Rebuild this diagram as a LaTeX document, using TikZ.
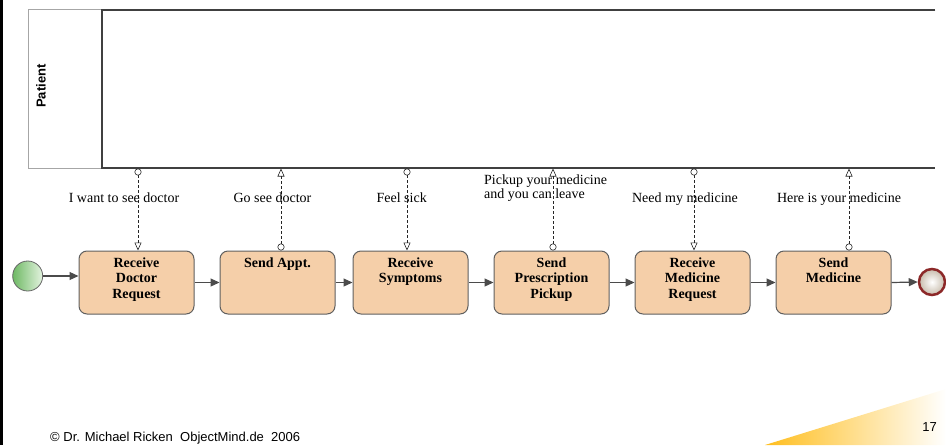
\documentclass[tikz,border=0pt]{standalone}
\usepackage{fontspec}
\setmainfont{Liberation Serif}
\setsansfont{Liberation Sans}
\usetikzlibrary{arrows.meta,shapes.geometric}
\definecolor{taskfill}{RGB}{245,207,169}
\definecolor{taskborder}{RGB}{95,95,95}
\definecolor{seqcol}{RGB}{75,75,75}
\definecolor{poolline}{RGB}{64,64,64}
\definecolor{endred}{RGB}{140,40,40}
\definecolor{startdark}{RGB}{110,185,100}
\definecolor{startlight}{RGB}{228,243,224}
\definecolor{endfillout}{RGB}{200,188,172}
\definecolor{footorange}{RGB}{255,190,30}
\newcommand\tasklbl[1]{\parbox[c][63pt][t]{115pt}{\centering\fontsize{14}{15.5}\selectfont\bfseries\vspace*{6.5pt}#1\par}}
\begin{document}
\begin{tikzpicture}[x=1pt,y=-1pt,
  task/.style={draw=taskborder, line width=1pt, rounded corners=8pt, fill=taskfill,
    inner sep=0pt, minimum width=115pt, minimum height=63pt},
  seq/.style={draw=seqcol, line width=1.2pt, -{Triangle[length=9pt,width=8pt]}},
  msg/.style={draw=black!85, line width=0.6pt, dash pattern=on 3pt off 2pt,
    {Circle[open,length=7pt,width=7pt]}-{Triangle[open,length=8pt,width=7pt]}},
  msglbl/.style={font=\fontsize{14}{14}\selectfont, inner sep=0pt, anchor=base},
  foot/.style={font=\sffamily\fontsize{13}{13}\selectfont, inner sep=0pt}]
\useasboundingbox (0,0) rectangle (946,445);
% left black bar
\draw[line width=3pt] (1.5,0) -- (1.5,445);
% footer triangle
\shade[left color=footorange, right color=white] (765,445) -- (946,389) -- (946,445) -- cycle;
% pool
\draw[gray!70, line width=0.8pt] (28,9.5) rectangle (102,168.5);
\node[anchor=north west, inner sep=0pt, minimum width=833pt, minimum height=158pt] (pool) at (102,10) {};
\draw[poolline, line width=2pt] (pool.north east) -- (pool.north west) -- (pool.south west) -- (pool.south east);
\node[rotate=90, font=\sffamily\bfseries\fontsize{13}{13}\selectfont, inner sep=0pt] (plabel) at (41,86) {Patient};
% tasks
\node[task] (t1) at (136.5,282.5) {\tasklbl{Receive\\Doctor\\Request}};
\node[task] (t2) at (277.5,282.5) {\tasklbl{Send Appt.}};
\node[task] (t3) at (410.5,282.5) {\tasklbl{Receive\\Symptoms}};
\node[task] (t4) at (551.5,282.5) {\tasklbl{Send\\Prescription\\Pickup}};
\node[task] (t5) at (692.5,282.5) {\tasklbl{Receive\\Medicine\\Request}};
\node[task] (t6) at (833.5,282.5) {\tasklbl{Send\\Medicine}};
% events
\node[circle, draw=gray!80!black, line width=0.8pt, minimum size=30pt, inner sep=0pt,
  left color=startdark, right color=startlight] (start) at (27.7,276) {};
\node[circle, draw=endred, line width=2.5pt, minimum size=26pt, inner sep=0pt,
  inner color=white, outer color=endfillout] (end) at (932,282) {};
% sequence flows
\draw[seq] (start.east) -- (start.east -| t1.west);
\draw[seq] (t1.east) -- (t2.west);
\draw[seq] (t2.east) -- (t3.west);
\draw[seq] (t3.east) -- (t4.west);
\draw[seq] (t4.east) -- (t5.west);
\draw[seq] (t5.east) -- (t6.west);
\draw[seq] (t6.east) -- (end.west);
% message flow anchors on pool edge
\coordinate (m1) at (138,168.5);
\coordinate (m2) at (281,168.5);
\coordinate (m3) at (407,168.5);
\coordinate (m4) at (553,168.5);
\coordinate (m5) at (694,168.5);
\coordinate (m6) at (849,168.5);
% message flows
\draw[msg] (m1) -- (m1 |- t1.north);
\draw[msg] (m2 |- t2.north) -- (m2);
\draw[msg] (m3) -- (m3 |- t3.north);
\draw[msg] (m4 |- t4.north) -- (m4);
\draw[msg] (m5) -- (m5 |- t5.north);
\draw[msg] (m6 |- t6.north) -- (m6);
% message labels
\node[msglbl] (l1) at (124,202.5) {I want to see doctor};
\node[msglbl] (l2) at (272.5,202.5) {Go see doctor};
\node[msglbl] (l3) at (401.7,202) {Feel sick};
\node[font=\fontsize{14}{14}\selectfont, inner sep=0pt, anchor=north west, align=left] (l4) at (484,174.5) {Pickup your medicine\\and you can leave};
\node[msglbl] (l5) at (685,202) {Need my medicine};
\node[msglbl] (l6) at (839,202) {Here is your medicine};
% footer
\node[foot, anchor=base west] (copy) at (50,441.5) {\textcopyright\ Dr. Michael Ricken\ \ ObjectMind.de\ \ 2006};
\node[foot, anchor=base] (pg) at (929.7,431.5) {17};
\end{tikzpicture}
\end{document}
